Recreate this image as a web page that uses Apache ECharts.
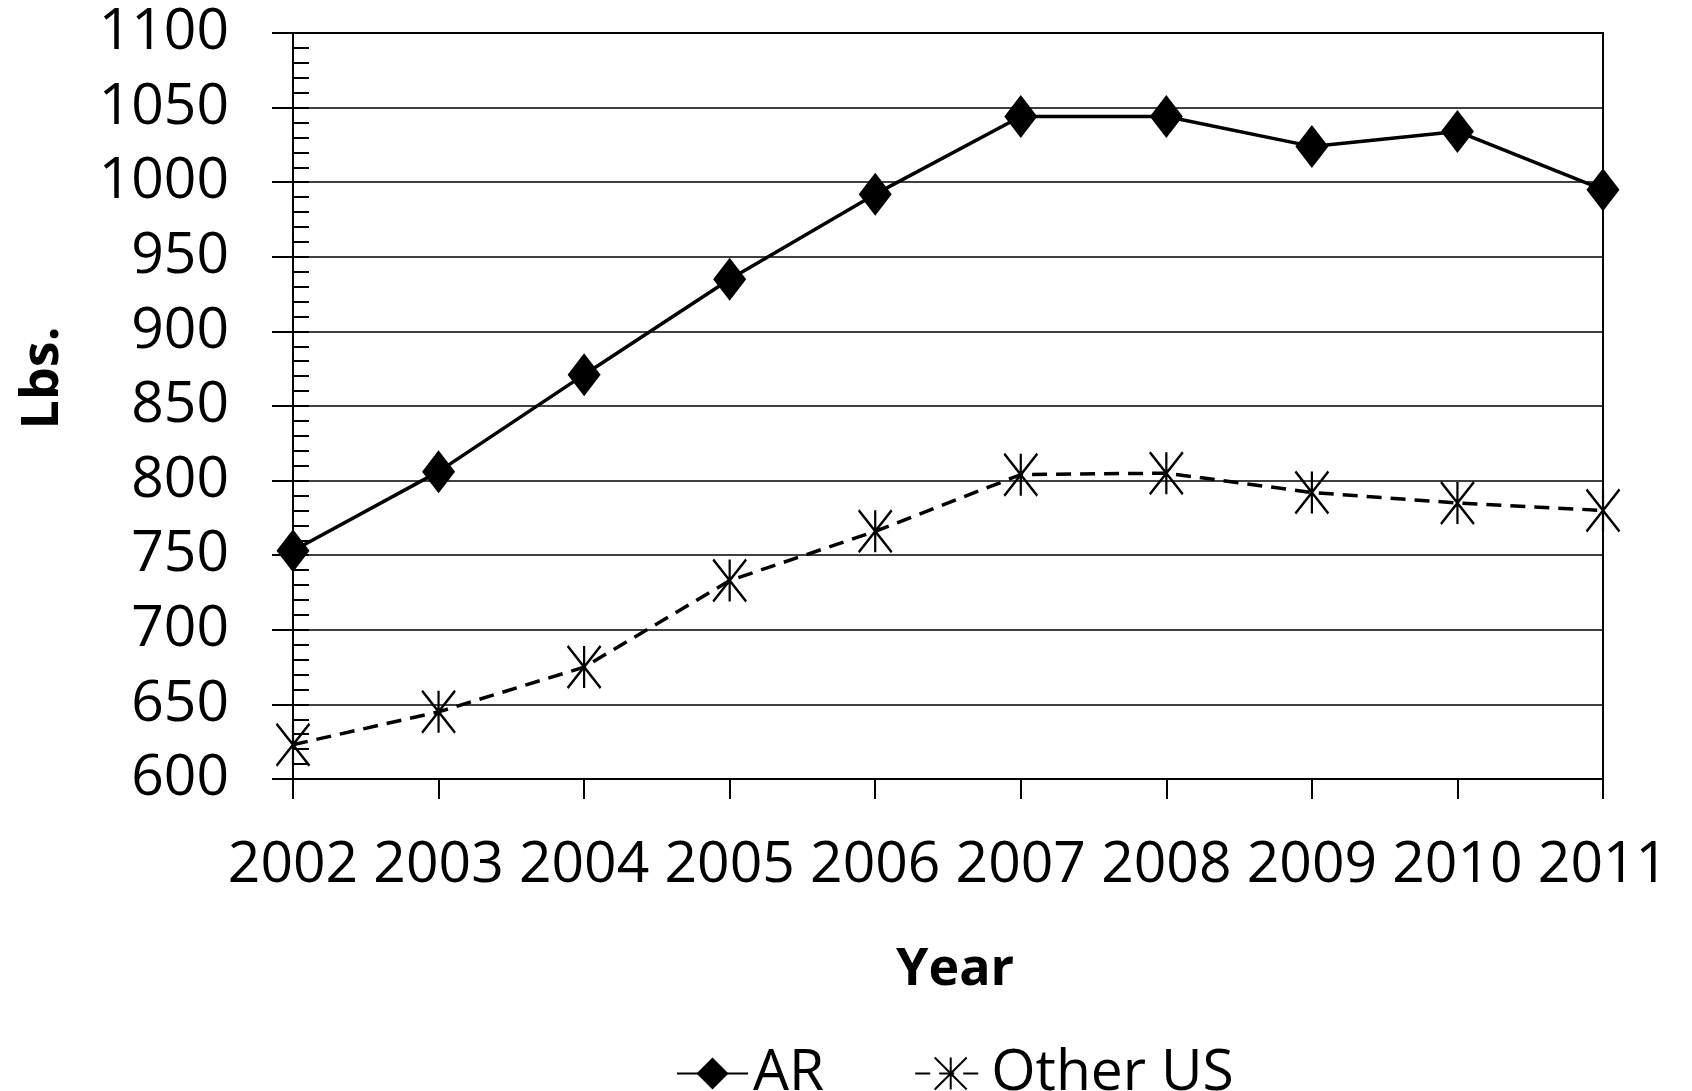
<!DOCTYPE html>
<html>
<head>
<meta charset="utf-8">
<script src="https://cdn.jsdelivr.net/npm/echarts@6/dist/echarts.min.js"></script>
<style>
html,body{margin:0;padding:0;background:#fff;}
#chart{width:1692px;height:1091px;}
</style>
</head>
<body>
<div id="chart"></div>
<script>
const years = ['2002','2003','2004','2005','2006','2007','2008','2009','2010','2011'];
const arValues = [753, 806, 871, 935, 992, 1044, 1044, 1024, 1034, 995];
const otherUSValues = [623, 645, 675, 733, 766, 804, 805, 792, 785, 780];
const yMin = 600, yMax = 1100, yStep = 50;

const FONT = '"Open Sans", sans-serif';
const asterisk = 'path://M0,0 L33,42 M33,0 L0,42 M16.5,0 L16.5,42';

const chart = echarts.init(document.getElementById('chart'), null, {renderer: 'canvas'});
chart.setOption({
  backgroundColor: '#fff',
  animation: false,
  grid: {left: 293, right: 89, top: 33, bottom: 312, show: true, borderColor: '#000', borderWidth: 2, backgroundColor: 'transparent'},
  xAxis: {
    type: 'category',
    data: years,
    boundaryGap: false,
    axisLine: {lineStyle: {color: '#000', width: 2}},
    axisTick: {show: true, length: 20, interval: 0, lineStyle: {color: '#000', width: 2}},
    axisLabel: {color: '#000', fontSize: 57, fontFamily: FONT, margin: 58, interval: 0},
    splitLine: {show: false}
  },
  yAxis: [{
    type: 'value',
    min: yMin, max: yMax, interval: yStep,
    axisLine: {show: true, lineStyle: {color: '#000', width: 2}},
    axisTick: {show: true, length: 21, lineStyle: {color: '#000', width: 2}},
    axisLabel: {color: '#000', fontSize: 57, fontFamily: FONT, margin: 64, formatter: v => String(v)},
    splitLine: {show: true, lineStyle: {color: '#000', width: 1.5}}
  }, {
    type: 'value',
    position: 'left',
    min: yMin, max: yMax, interval: yStep,
    axisLine: {show: false},
    axisTick: {show: true, inside: true, length: 16, lineStyle: {color: '#000', width: 2}},
    minorTick: {show: true, splitNumber: 5, length: 16, lineStyle: {color: '#000', width: 2}},
    axisLabel: {show: false},
    splitLine: {show: false}
  }],
  legend: {
    left: 671, top: 1040,
    itemWidth: 71, itemHeight: 40, itemGap: 90,
    textStyle: {color: '#000', fontSize: 57, fontFamily: FONT},
    data: ['AR', 'Other US']
  },
  graphic: [{
    type: 'text', left: 954 - 58, top: 968 - 24,
    style: {text: 'Year', font: 'bold 52px ' + FONT, fill: '#000'}
  }, {
    type: 'text', x: 43, y: 378, rotation: Math.PI / 2,
    style: {text: 'Lbs.', font: 'bold 52px ' + FONT, fill: '#000', align: 'center', verticalAlign: 'middle'}
  }],
  series: [{
    name: 'AR', type: 'line', data: arValues,
    symbol: 'diamond', symbolSize: [33, 43],
    itemStyle: {color: '#000'},
    lineStyle: {color: '#000', width: 3.5}
  }, {
    name: 'Other US', type: 'line', data: otherUSValues,
    symbol: asterisk, symbolSize: [33, 42],
    itemStyle: {color: 'transparent', borderColor: '#000', borderWidth: 2.5},
    lineStyle: {color: '#000', width: 3.5, type: [15, 9]}
  }]
});
</script>
</body>
</html>
